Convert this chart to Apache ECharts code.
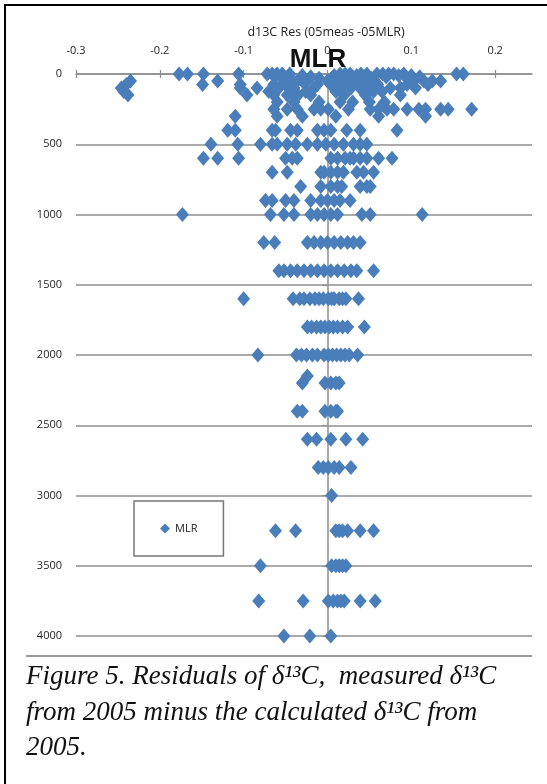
<!DOCTYPE html>
<html>
<head>
<meta charset="utf-8">
<script src="https://cdn.jsdelivr.net/npm/echarts@6/dist/echarts.min.js"></script>
<style>
html,body{margin:0;padding:0;background:#fff;}
#chart{width:547px;height:784px;}
</style>
</head>
<body>
<div id="chart"></div>
<script>
// Depth levels (m) and the residuals (05meas - 05MLR) read at each level
const depthLevels = [0, 10, 20, 30, 50, 75, 100, 125, 150, 200, 250, 300, 400, 500, 600, 700, 800, 900, 1000,
  1200, 1400, 1600, 1800, 2000, 2150, 2200, 2400, 2600, 2800, 3000, 3250, 3500, 3750, 4000];
const residualsByDepth = [
  [-0.177, -0.167, -0.148, -0.106, -0.072, -0.066, -0.060, -0.054, -0.045, 0.015, 0.021, 0.027, 0.040, 0.047, 0.059, 0.066, 0.073, 0.079, 0.091, 0.154, 0.162],
  [-0.062, -0.030, 0.008, 0.035, 0.085, 0.100],
  [-0.055, -0.020, 0.030, 0.070, 0.110],
  [-0.050, -0.010, 0.005, 0.052, 0.095],
  [-0.235, -0.131, -0.042, -0.036, -0.030, -0.024, 0.000, 0.008, 0.016, 0.024, 0.032, 0.039, 0.045, 0.051, 0.103, 0.115, 0.125, 0.135],
  [-0.240, -0.149, -0.104, -0.064, -0.050, -0.012, 0.004, 0.020, 0.036, 0.060, 0.095, 0.120],
  [-0.246, -0.104, -0.084, -0.058, -0.040, -0.016, 0.012, 0.028, 0.039, 0.047, 0.075, 0.087, 0.105],
  [-0.243, -0.070, -0.044, -0.026, 0.010, 0.055, 0.065],
  [-0.238, -0.096, -0.064, -0.048, -0.035, -0.020, 0.020, 0.045, 0.087],
  [-0.060, -0.040, -0.010, 0.015, 0.030, 0.050, 0.068],
  [-0.064, -0.048, -0.036, -0.016, -0.008, 0.001, 0.025, 0.051, 0.061, 0.071, 0.079, 0.095, 0.109, 0.117, 0.135, 0.144, 0.172],
  [-0.110, -0.060, -0.030, 0.010, 0.061, 0.117],
  [-0.119, -0.110, -0.066, -0.062, -0.044, -0.036, -0.012, -0.004, 0.004, 0.023, 0.039, 0.083],
  [-0.139, -0.107, -0.080, -0.066, -0.060, -0.048, -0.038, -0.024, -0.012, -0.002, 0.008, 0.019, 0.031, 0.039, 0.047],
  [-0.148, -0.131, -0.106, -0.050, -0.042, -0.036, 0.004, 0.012, 0.021, 0.027, 0.031, 0.039, 0.047, 0.061, 0.077],
  [-0.066, -0.048, -0.008, -0.004, 0.004, 0.012, 0.019, 0.035, 0.043, 0.055],
  [-0.032, -0.008, 0.004, 0.012, 0.017, 0.039, 0.047, 0.051],
  [-0.074, -0.066, -0.050, -0.040, -0.020, -0.008, 0.000, 0.008, 0.015, 0.027],
  [-0.173, -0.068, -0.052, -0.040, -0.020, -0.012, -0.004, 0.004, 0.012, 0.041, 0.051, 0.113],
  [-0.076, -0.063, -0.024, -0.016, -0.008, 0.000, 0.008, 0.016, 0.024, 0.031, 0.039],
  [-0.058, -0.052, -0.044, -0.036, -0.028, -0.020, -0.012, -0.004, 0.004, 0.012, 0.020, 0.028, 0.035, 0.055],
  [-0.100, -0.041, -0.033, -0.028, -0.021, -0.015, -0.010, -0.005, 0.001, 0.005, 0.008, 0.014, 0.018, 0.022, 0.037],
  [-0.024, -0.019, -0.013, -0.008, -0.003, 0.002, 0.007, 0.012, 0.018, 0.024, 0.044],
  [-0.083, -0.037, -0.031, -0.025, -0.018, -0.012, -0.004, 0.001, 0.006, 0.011, 0.016, 0.021, 0.026, 0.036],
  [-0.024],
  [-0.030, -0.003, 0.004, 0.010, 0.014],
  [-0.036, -0.030, -0.003, 0.004, 0.010, 0.012],
  [-0.024, -0.013, 0.004, 0.022, 0.042],
  [-0.011, -0.005, 0.001, 0.008, 0.014, 0.028],
  [0.005],
  [-0.062, -0.038, 0.010, 0.014, 0.018, 0.024, 0.039, 0.055],
  [-0.080, 0.005, 0.010, 0.014, 0.018, 0.022],
  [-0.082, -0.029, 0.001, 0.007, 0.012, 0.016, 0.020, 0.039, 0.057],
  [-0.052, -0.021, 0.004]
];
const xTickValues = [-0.3, -0.2, -0.1, 0, 0.1, 0.2];
const seriesName = 'MLR';
const axisTitle = 'd13C Res (05meas -05MLR)';
const captionLines = [
  'Figure 5. Residuals of δ¹³C,  measured δ¹³C',
  'from 2005 minus the calculated δ¹³C from',
  '2005.'
];

const points = [];
depthLevels.forEach((d, i) => {
  residualsByDepth[i].forEach(v => points.push([v, d]));
});

const chart = echarts.init(document.getElementById('chart'), null, {renderer: 'canvas'});
const gridCol = '#8f8f8f';
const labelFont = {fontFamily: 'Open Sans, Liberation Sans, sans-serif', fontSize: 11, color: '#1e1e1e', fontWeight: 500};
const captionStyle = {fontFamily: 'Liberation Serif, Times New Roman, serif', fontStyle: 'italic', fontSize: 27, fill: '#111', align: 'left', verticalAlign: 'middle'};

chart.setOption({
  animation: false,
  backgroundColor: '#fff',
  grid: {left: 76, right: 15, top: 74, bottom: 148, containLabel: false},
  xAxis: [{
    type: 'value', position: 'top', min: -0.3, max: 0.244, interval: 0.1,
    axisLine: {show: true, onZero: false, lineStyle: {color: gridCol, width: 1.5}},
    axisTick: {show: true, length: 4, customValues: xTickValues, lineStyle: {color: gridCol, width: 1.2}},
    axisLabel: Object.assign({margin: 18, customValues: xTickValues, formatter: v => String(Math.round(v * 10) / 10)}, labelFont),
    splitLine: {show: false}
  }, {
    type: 'value', position: 'top', min: -0.3, max: 0.244, interval: 0.1,
    axisLine: {show: false},
    axisTick: {show: true, inside: true, length: 4, customValues: xTickValues, lineStyle: {color: gridCol, width: 1.2}},
    axisLabel: {show: false},
    splitLine: {show: false}
  }],
  yAxis: {
    type: 'value', inverse: true, min: 0, max: 4000, interval: 500,
    axisLine: {show: true, lineStyle: {color: gridCol, width: 1.5}},
    axisTick: {show: true, length: 5, lineStyle: {color: gridCol, width: 1.2}},
    axisLabel: Object.assign({margin: 14, formatter: v => String(v)}, labelFont),
    splitLine: {show: true, lineStyle: {color: gridCol, width: 1.5}}
  },
  legend: {
    left: 134, top: 501,
    orient: 'vertical',
    data: [{name: seriesName, icon: 'diamond'}],
    itemWidth: 10, itemHeight: 10, itemGap: 4,
    padding: [22, 26, 22, 26],
    borderColor: '#777', borderWidth: 1.5,
    textStyle: {fontFamily: 'Open Sans, Liberation Sans, sans-serif', fontSize: 11, color: '#222'}
  },
  series: [{
    name: seriesName, type: 'scatter', xAxisIndex: 0,
    symbol: 'diamond', symbolSize: [13, 15],
    itemStyle: {color: '#4A7EBB', opacity: 1},
    data: points
  }],
  graphic: [
    {type: 'rect', shape: {x: 5, y: 5, width: 600, height: 820}, style: {fill: 'none', stroke: '#000', lineWidth: 2}, silent: true},
    {type: 'line', shape: {x1: 26, y1: 656, x2: 532, y2: 656}, style: {stroke: '#9a9a9a', lineWidth: 2}, silent: true},
    {type: 'text', x: 326, y: 32, style: {text: axisTitle, fontFamily: 'Open Sans, Liberation Sans, sans-serif', fontSize: 12.5, fill: '#222', align: 'center', verticalAlign: 'middle'}, silent: true},
    {type: 'text', x: 318, y: 60, style: {text: seriesName, fontFamily: 'Liberation Sans Narrow, Liberation Sans, Arial, sans-serif', fontWeight: 'bold', fontSize: 26, fill: '#111', align: 'center', verticalAlign: 'middle'}, silent: true},
    {type: 'text', x: 26, y: 677, style: Object.assign({text: captionLines[0]}, captionStyle), silent: true},
    {type: 'text', x: 26, y: 713, style: Object.assign({text: captionLines[1]}, captionStyle), silent: true},
    {type: 'text', x: 26, y: 748, style: Object.assign({text: captionLines[2]}, captionStyle), silent: true}
  ]
});
</script>
</body>
</html>
